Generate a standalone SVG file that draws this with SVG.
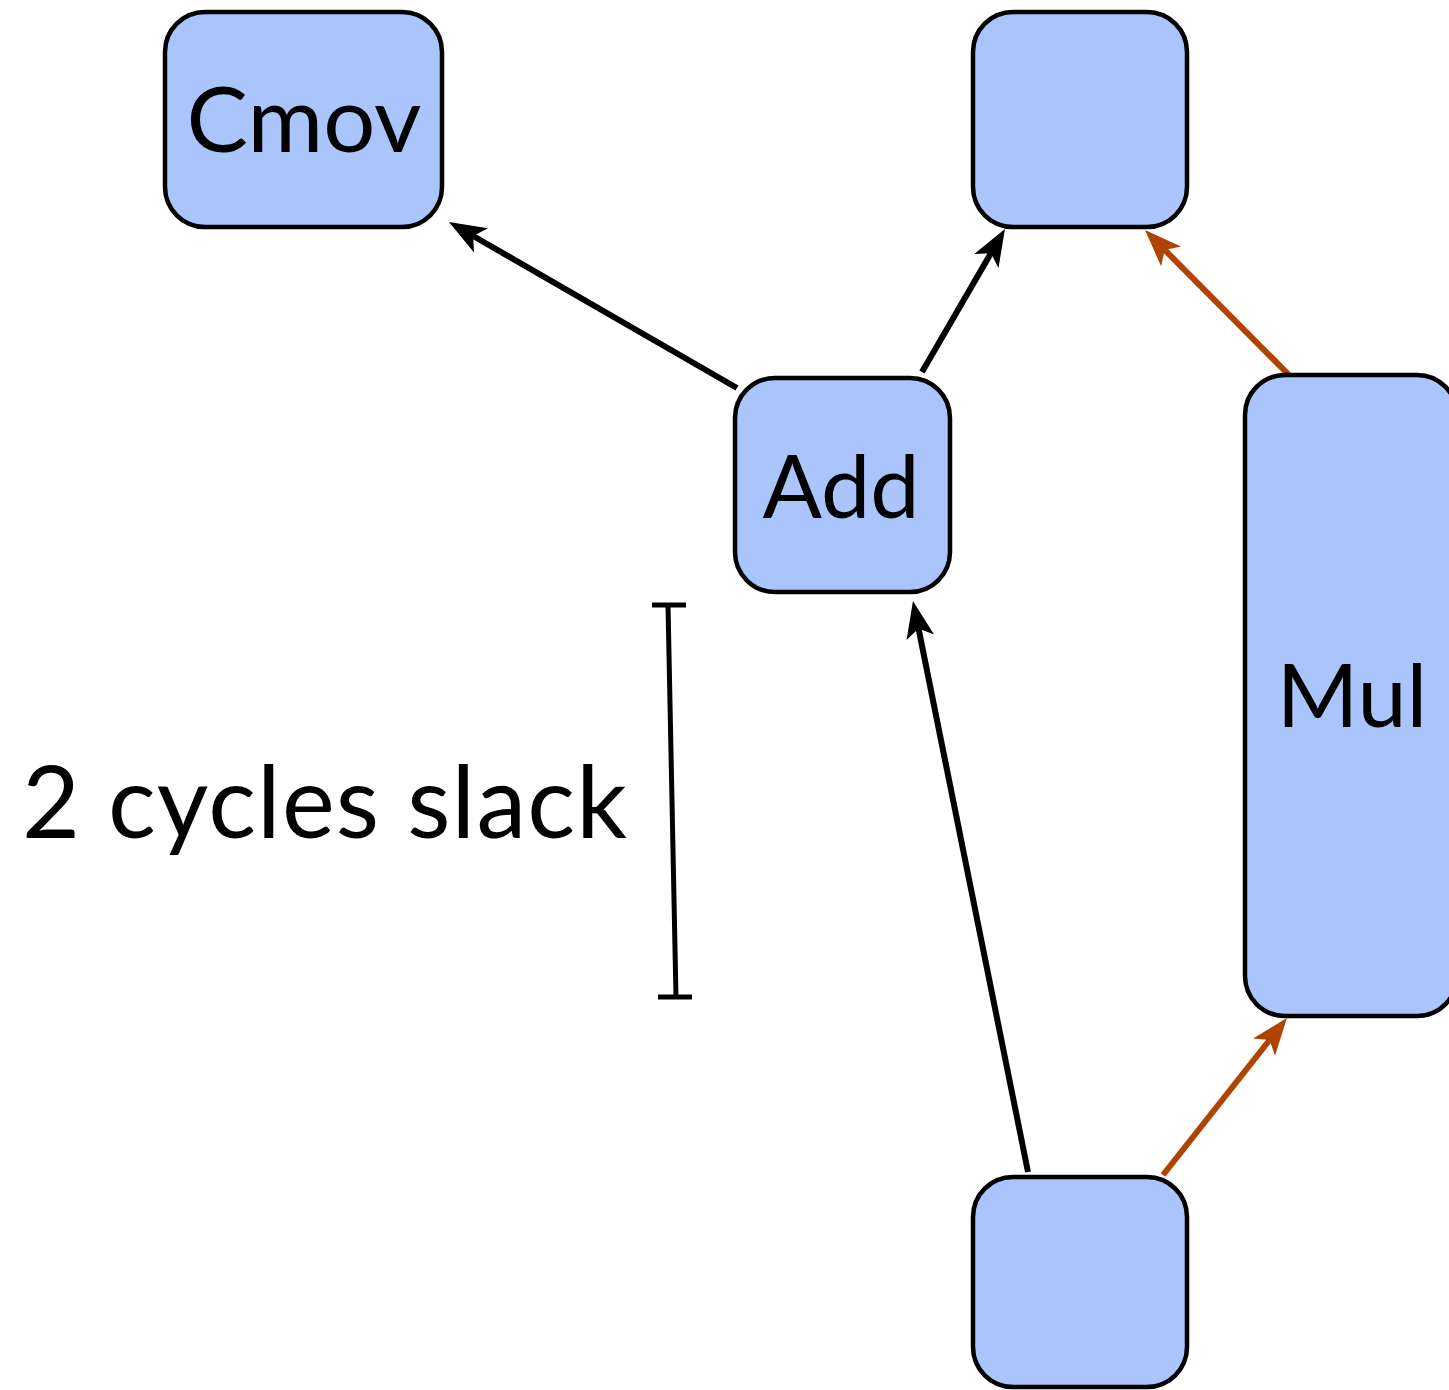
<svg xmlns="http://www.w3.org/2000/svg" width="1449" height="1390" viewBox="0 0 1449 1390">
<defs>
<style>
.node{fill:#a9c5fb;stroke:#000;stroke-width:4.5}
.lbl{font-family:Lato,"Liberation Sans",sans-serif;fill:#000;text-anchor:middle}
.k{stroke:#000;stroke-width:6;fill:none}
.o{stroke:#b14300;stroke-width:6;fill:none}
</style>
<marker id="ak" markerUnits="userSpaceOnUse" viewBox="-12 -18 44 36" refX="0" refY="0" markerWidth="44" markerHeight="36" orient="auto"><path d="M28,0 L-9,-14 L0,0 L-9,14 Z" fill="#000"/></marker>
<marker id="ao" markerUnits="userSpaceOnUse" viewBox="-12 -18 44 36" refX="0" refY="0" markerWidth="44" markerHeight="36" orient="auto"><path d="M28,0 L-9,-14 L0,0 L-9,14 Z" fill="#b14300"/></marker>
</defs>
<rect width="1449" height="1390" fill="#fff"/>
<g id="connectors">
<line class="k" x1="737" y1="388" x2="473.2" y2="236" marker-end="url(#ak)"/>
<line class="k" x1="922" y1="372" x2="990.9" y2="253.2" marker-end="url(#ak)"/>
<line class="o" x1="1289" y1="375" x2="1164.7" y2="249.9" marker-end="url(#ao)"/>
<line class="k" x1="1028" y1="1172" x2="918.5" y2="628.4" marker-end="url(#ak)"/>
<line class="o" x1="1163" y1="1175" x2="1269.6" y2="1040" marker-end="url(#ao)"/>
</g>
<g id="cmov"><rect class="node" x="165" y="12" width="277" height="215" rx="40"/><text class="lbl" x="304" y="152" font-size="92">Cmov</text></g>
<g id="top"><rect class="node" x="973" y="12" width="214" height="215" rx="40"/></g>
<g id="add"><rect class="node" x="735" y="378" width="215" height="214" rx="40"/><text class="lbl" x="841" y="518" font-size="88">Add</text></g>
<g id="mul"><rect class="node" x="1245" y="375" width="212" height="641" rx="40"/><text class="lbl" x="1352" y="727" font-size="88">Mul</text></g>
<g id="bottom"><rect class="node" x="973" y="1177" width="214" height="210" rx="40"/></g>
<g id="slack">
<path d="M668,605 L676,997 M652,605 H686 M658,997 H692" stroke="#000" stroke-width="5" fill="none"/>
<text x="22" y="838" font-family="Lato,'Liberation Sans',sans-serif" font-size="100" textLength="605" lengthAdjust="spacing">2 cycles slack</text>
</g>
</svg>
